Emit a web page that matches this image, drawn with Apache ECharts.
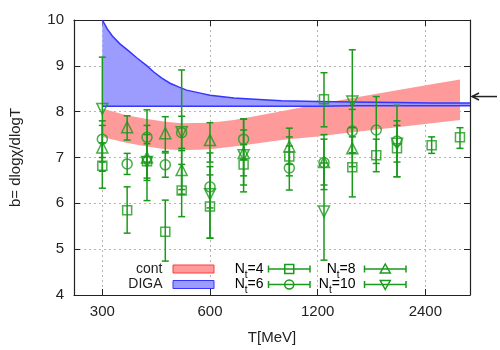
<!DOCTYPE html>
<html>
<head>
<meta charset="utf-8">
<script src="https://cdn.jsdelivr.net/npm/echarts@6/dist/echarts.min.js"></script>
<style>
  html, body { margin: 0; padding: 0; background: #fff; }
  #chart { width: 500px; height: 350px; }
</style>
</head>
<body>
<div id="chart"></div>
<script>
// x axis is logarithmic in T
const xTicks = [300, 600, 1200, 2400];
const xMin = 250;
const xMax = 3200;

// continuum band (cont)
const contT  = [300, 350, 400, 450, 500, 600, 700, 800, 950, 1200, 1500, 2000, 2500, 3000];
const contHi = [8.07, 7.92, 7.84, 7.78, 7.75, 7.76, 7.82, 7.9, 8.01, 8.16, 8.3, 8.47, 8.6, 8.7];
const contLo = [7.45, 7.32, 7.24, 7.18, 7.16, 7.18, 7.24, 7.3, 7.38, 7.46, 7.55, 7.66, 7.75, 7.82];

// DIGA band
const digaT  = [300, 310, 320, 336, 356, 375, 400, 417, 440, 464, 490, 516, 560, 600, 700, 800, 950, 1200, 1500, 2000, 2500, 3200];
const digaHi = [10.0, 9.8, 9.65, 9.48, 9.32, 9.17, 9.0, 8.87, 8.73, 8.62, 8.54, 8.47, 8.41, 8.36, 8.3, 8.27, 8.24, 8.22, 8.21, 8.2, 8.19, 8.19];
const digaLo = [8.12, 8.12, 8.12, 8.12, 8.12, 8.12, 8.12, 8.12, 8.12, 8.12, 8.12, 8.12, 8.12, 8.12, 8.12, 8.12, 8.12, 8.12, 8.13, 8.13, 8.13, 8.13];

// lattice results: [T, b, b low, b high]
const nt4 = [
  [300, 6.82, 6.33, 7.32], [352, 5.85, 5.35, 6.36], [400, 6.92, 6.55, 7.3],
  [450, 5.38, 4.74, 6.07], [500, 6.28, 5.71, 6.85], [600, 5.93, 5.24, 6.62],
  [745, 6.85, 6.4, 7.28], [1000, 7.02, 6.6, 7.45], [1250, 8.27, 7.67, 8.85],
  [1500, 6.79, 6.14, 7.45], [1750, 7.05, 6.69, 7.4], [2000, 7.2, 6.58, 7.8],
  [2500, 7.27, 7.09, 7.45], [3000, 7.44, 7.2, 7.65]
];
const nt6 = [
  [300, 7.4, 7.0, 7.8], [352, 6.86, 6.63, 7.09], [400, 7.44, 6.9, 8.04],
  [450, 6.84, 6.57, 7.1], [500, 7.54, 7.2, 7.9], [600, 6.36, 5.9, 6.8],
  [745, 7.4, 6.95, 7.84], [1000, 6.77, 6.29, 7.25], [1250, 6.89, 6.3, 7.5],
  [1500, 7.58, 7.1, 8.05], [1750, 7.6, 6.87, 8.33], [2000, 7.36, 6.58, 8.14]
];
const nt8 = [
  [300, 7.22, 6.7, 7.7], [352, 7.66, 7.38, 7.91], [400, 7.0, 6.5, 7.5],
  [450, 7.53, 7.13, 7.89], [500, 6.73, 6.3, 7.15], [600, 7.38, 6.9, 7.76],
  [745, 7.1, 6.6, 7.6], [1000, 7.24, 6.85, 7.64], [1250, 6.9, 6.4, 7.4],
  [1500, 7.2, 6.8, 7.65]
];
const nt10 = [
  [300, 8.06, 6.9, 9.19], [400, 6.9, 6.06, 7.7], [500, 7.55, 6.2, 8.91],
  [600, 6.2, 5.24, 7.1], [745, 7.05, 6.25, 7.84], [1250, 5.82, 4.76, 6.88],
  [1500, 8.22, 7.1, 9.35], [2000, 7.3, 6.9, 7.7]
];

const arrowB = 8.33;

const font = 'Liberation Sans';
const green = '#1a9a1a';
const ink = '#222';

const chart = echarts.init(document.getElementById('chart'));

// band drawn as one polygon through the axis scales
const bandRender = (ts, lo, hi, fill, edge) => (params, api) => {
  if (params.dataIndex !== 0) return;
  const up = ts.map((t, i) => api.coord([Math.log2(t), hi[i]]));
  const dn = ts.map((t, i) => api.coord([Math.log2(t), lo[i]]));
  const children = [{
    type: 'polygon',
    shape: { points: up.concat(dn.slice().reverse()) },
    style: { fill: fill }
  }];
  if (edge) {
    children.push({ type: 'polyline', shape: { points: up }, style: { stroke: edge, lineWidth: 1.5, fill: null } });
    children.push({ type: 'polyline', shape: { points: dn }, style: { stroke: edge, lineWidth: 1.5, fill: null } });
  }
  return { type: 'group', children: children };
};

const errRender = (params, api) => {
  const x = api.value(0);
  const lo = api.coord([x, api.value(1)]);
  const hi = api.coord([x, api.value(2)]);
  const c = 3.5;
  const style = { stroke: green, lineWidth: 1.5 };
  return {
    type: 'group',
    children: [
      { type: 'line', shape: { x1: lo[0], y1: lo[1], x2: hi[0], y2: hi[1] }, style: style },
      { type: 'line', shape: { x1: lo[0] - c, y1: lo[1], x2: lo[0] + c, y2: lo[1] }, style: style },
      { type: 'line', shape: { x1: hi[0] - c, y1: hi[1], x2: hi[0] + c, y2: hi[1] }, style: style }
    ]
  };
};

const errSeries = (pts) => ({
  type: 'custom',
  renderItem: errRender,
  data: pts.map(p => [Math.log2(p[0]), p[2], p[3]]),
  encode: { x: 0, y: [1, 2] },
  silent: true,
  z: 3
});

const markSeries = (pts, symbol, size, rotate) => ({
  type: 'scatter',
  symbol: symbol,
  symbolSize: size,
  symbolRotate: rotate || 0,
  data: pts.map(p => [Math.log2(p[0]), p[1]]),
  itemStyle: { color: 'rgba(0,0,0,0)', borderColor: green, borderWidth: 1.5 },
  z: 4
});

const tickLog = xTicks.map(t => Math.log2(t));

const axisLineStyle = { show: true, onZero: false, lineStyle: { color: ink, width: 1.2 } };

const option = {
  animation: false,
  grid: { left: 72, top: 20, width: 398, height: 275 },
  xAxis: [{
    type: 'value',
    min: Math.log2(xMin),
    max: Math.log2(xMax),
    position: 'bottom',
    axisLine: axisLineStyle,
    axisTick: { show: true, inside: true, length: 6, customValues: tickLog, lineStyle: { color: ink } },
    axisLabel: {
      customValues: tickLog,
      formatter: v => String(Math.round(Math.pow(2, v))),
      margin: 9, fontSize: 15, color: ink, fontFamily: font
    },
    splitLine: { show: true, lineStyle: { color: '#b4b4b4', type: [2, 3] } },
    name: 'T[MeV]',
    nameLocation: 'middle',
    nameGap: 35,
    nameTextStyle: { fontSize: 15, color: ink, fontFamily: font }
  }, {
    type: 'value',
    min: Math.log2(xMin),
    max: Math.log2(xMax),
    position: 'top',
    axisLine: axisLineStyle,
    axisTick: { show: true, inside: true, length: 6, customValues: tickLog, lineStyle: { color: ink } },
    axisLabel: { show: false },
    splitLine: { show: false }
  }],
  yAxis: [{
    type: 'value',
    min: 4,
    max: 10,
    interval: 1,
    position: 'left',
    axisLine: axisLineStyle,
    axisTick: { show: true, inside: true, length: 6, lineStyle: { color: ink } },
    axisLabel: { margin: 10, fontSize: 15, color: ink, fontFamily: font },
    splitLine: { show: true, lineStyle: { color: '#b4b4b4', type: [2, 3] } },
    name: 'b= dlogχ/dlogT',
    nameLocation: 'middle',
    nameGap: 51,
    nameTextStyle: { fontSize: 15, color: ink, fontFamily: font }
  }, {
    type: 'value',
    min: 4,
    max: 10,
    interval: 1,
    position: 'right',
    axisLine: axisLineStyle,
    axisTick: { show: true, inside: true, length: 6, lineStyle: { color: ink } },
    axisLabel: { show: false },
    splitLine: { show: false }
  }],
  series: [
    {
      type: 'custom',
      renderItem: bandRender(contT, contLo, contHi, '#ff9a9a', null),
      data: contT.map((t, i) => [Math.log2(t), contLo[i], contHi[i]]),
      encode: { x: 0, y: [1, 2] },
      silent: true,
      z: 1
    },
    {
      type: 'custom',
      renderItem: bandRender(digaT, digaLo, digaHi, '#9c9cff', '#3535ff'),
      data: digaT.map((t, i) => [Math.log2(t), digaLo[i], digaHi[i]]),
      encode: { x: 0, y: [1, 2] },
      silent: true,
      z: 2
    },
    errSeries(nt4), markSeries(nt4, 'rect', 9),
    errSeries(nt6), markSeries(nt6, 'circle', 10),
    errSeries(nt8), markSeries(nt8, 'triangle', 11),
    errSeries(nt10), markSeries(nt10, 'triangle', 11, 180)
  ]
};

chart.setOption(option);

// key, drawn in gnuplot style inside the plot
const row1 = 269, row2 = 284.5;
const txt = (x, y, s) => ({
  type: 'text', x: x, y: y,
  style: { text: s, align: 'right', verticalAlign: 'middle', font: '14px "Liberation Sans"', fill: ink }
});
const ntTxt = (x, y, n) => ({
  type: 'text', x: x, y: y + 2,
  style: {
    text: '{a|N}{b|t}{a|=' + n + '}',
    align: 'right', verticalAlign: 'middle',
    rich: {
      a: { fontSize: 14, fontFamily: font, color: ink, verticalAlign: 'bottom', padding: [0, 0, 4, 0] },
      b: { fontSize: 10, fontFamily: font, color: ink, verticalAlign: 'bottom' }
    }
  }
});
const gs = { stroke: green, lineWidth: 1.5, fill: null };
const sample = (x0, x1, y, mark) => {
  const cx = (x0 + x1) / 2;
  const items = [
    { type: 'line', shape: { x1: x0, y1: y, x2: x1, y2: y }, style: gs },
    { type: 'line', shape: { x1: x0, y1: y - 3.5, x2: x0, y2: y + 3.5 }, style: gs },
    { type: 'line', shape: { x1: x1, y1: y - 3.5, x2: x1, y2: y + 3.5 }, style: gs }
  ];
  if (mark === 'rect') items.push({ type: 'rect', shape: { x: cx - 4.5, y: y - 4.5, width: 9, height: 9 }, style: gs });
  if (mark === 'circle') items.push({ type: 'circle', shape: { cx: cx, cy: y, r: 4.5 }, style: gs });
  if (mark === 'up') items.push({ type: 'polygon', shape: { points: [[cx, y - 5], [cx + 5, y + 4], [cx - 5, y + 4]] }, style: gs });
  if (mark === 'down') items.push({ type: 'polygon', shape: { points: [[cx, y + 5], [cx + 5, y - 4], [cx - 5, y - 4]] }, style: gs });
  return items;
};

const arrowY = chart.convertToPixel({ yAxisIndex: 0 }, arrowB);
const arrowX = chart.convertToPixel({ xAxisIndex: 0 }, Math.log2(xMax)) + 2;

chart.setOption({
  graphic: [
    txt(162.5, row1, 'cont'),
    txt(162.5, row2, 'DIGA'),
    { type: 'rect', shape: { x: 173, y: row1 - 4, width: 41, height: 8 }, style: { fill: '#ff9a9a', stroke: '#ff3a3a', lineWidth: 1 } },
    { type: 'rect', shape: { x: 173, y: row2 - 4, width: 41, height: 8 }, style: { fill: '#9c9cff', stroke: '#3535ff', lineWidth: 1 } },
    ntTxt(263.5, row1, 4),
    ntTxt(263.5, row2, 6),
    ntTxt(355.5, row1, 8),
    ntTxt(355.5, row2, 10),
    ...sample(268.5, 310, row1, 'rect'),
    ...sample(268.5, 310, row2, 'circle'),
    ...sample(364.5, 406, row1, 'up'),
    ...sample(364.5, 406, row2, 'down'),
    { type: 'line', shape: { x1: arrowX, y1: arrowY, x2: arrowX + 25, y2: arrowY }, style: { stroke: ink, lineWidth: 1.5 } },
    { type: 'polyline', shape: { points: [[arrowX + 7, arrowY - 3.5], [arrowX, arrowY], [arrowX + 7, arrowY + 3.5]] }, style: { stroke: ink, lineWidth: 1.5, fill: null } }
  ]
});
</script>
</body>
</html>
